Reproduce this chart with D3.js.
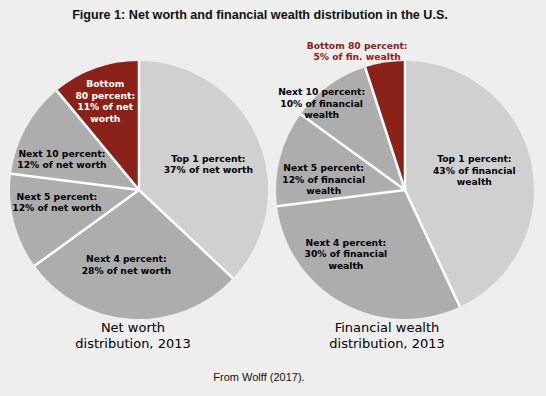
<!DOCTYPE html>
<html><head><meta charset="utf-8">
<script src="https://cdn.jsdelivr.net/npm/d3@7"></script>
<style>
html,body{margin:0;padding:0;background:#eeeeee;}
svg{display:block;}
</style></head>
<body>
<script>
// ---- data ----
const groups = ["Top 1 percent", "Next 4 percent", "Next 5 percent", "Next 10 percent", "Bottom 80 percent"];
const netWorth = [37, 28, 12, 12, 11];
const financialWealth = [43, 30, 12, 10, 5];
const netWorthLabels = [
  ["Top 1 percent:", "37% of net worth"],
  ["Next 4 percent:", "28% of net worth"],
  ["Next 5 percent:", "12% of net worth"],
  ["Next 10 percent:", "12% of net worth"],
  ["Bottom", "80 percent:", "11% of net", "worth"]
];
const financialLabels = [
  ["Top 1 percent:", "43% of financial", "wealth"],
  ["Next 4 percent:", "30% of financial", "wealth"],
  ["Next 5 percent:", "12% of financial", "wealth"],
  ["Next 10 percent:", "10% of financial", "wealth"],
  ["Bottom 80 percent:", "5% of fin. wealth"]
];
const pieTitles = [["Net worth", "distribution, 2013"], ["Financial wealth", "distribution, 2013"]];
const title = "Figure 1: Net worth and financial wealth distribution in the U.S.";
const source = "From Wolff (2017).";

// ---- layout ----
const W = 546, H = 396;
const colors = ["#d0d0d0", "#adadad", "#adadad", "#adadad", "#8a2219"];
const labelColors = ["#000", "#000", "#000", "#000", "#fff"];
const R = 129;
const pies = [
  {cx: 139, cy: 190, values: netWorth, labels: netWorthLabels, titleX: 133,
   // label placement: radius, angle offset (deg)
   lab: [[74, 3], [76, 6], [83, 6], [83, -7], [95, -1]], lastColor: "#fff"},
  {cx: 405, cy: 190, values: financialWealth, labels: financialLabels, titleX: 387,
   lab: [[72, -3], [87, 14], [82, -7], [120, -8], [147, -10]], lastColor: "#8a2219"}
];

const svg = d3.select("body").append("svg").attr("width", W).attr("height", H);

svg.append("text").attr("x", 260).attr("y", 19).attr("text-anchor", "middle")
  .style("font-family", "'Liberation Sans', Arial, sans-serif").style("font-weight", "bold")
  .style("font-size", "12.6px").attr("fill", "#111").text(title);

const pieGen = d3.pie().sort(null).value(d => d);
const arc = d3.arc().innerRadius(0).outerRadius(R);

pies.forEach((p, pi) => {
  const g = svg.append("g").attr("transform", `translate(${p.cx},${p.cy})`);
  const arcs = pieGen(p.values);
  g.selectAll("path.slice").data(arcs).join("path").attr("class", "slice")
    .attr("d", arc).attr("fill", (d, i) => colors[i]);
  // separators
  g.selectAll("line.sep").data(arcs).join("line").attr("class", "sep")
    .attr("x1", 0).attr("y1", 0)
    .attr("x2", d => Math.sin(d.startAngle) * R)
    .attr("y2", d => -Math.cos(d.startAngle) * R)
    .attr("stroke", "#fff").attr("stroke-width", 2.5);
  // labels
  arcs.forEach((d, i) => {
    const mid = (d.startAngle + d.endAngle) / 2 + p.lab[i][1] * Math.PI / 180;
    const r = p.lab[i][0];
    const x = Math.sin(mid) * r, y = -Math.cos(mid) * r;
    const lines = p.labels[i];
    const lh = 11.5;
    const t = g.append("text").attr("text-anchor", "middle")
      .style("font-family", "'DejaVu Sans', Verdana, sans-serif").style("font-weight", "bold")
      .style("font-size", "9.2px")
      .attr("fill", i === 4 ? p.lastColor : labelColors[i]);
    lines.forEach((ln, k) => {
      t.append("tspan").attr("x", x)
        .attr("y", y + (k - (lines.length - 1) / 2) * lh + 3.3).text(ln);
    });
  });
  // pie title
  const tt = svg.append("text").attr("text-anchor", "middle")
    .style("font-family", "'DejaVu Sans', Verdana, sans-serif").style("font-size", "13px")
    .attr("fill", "#000");
  pieTitles[pi].forEach((ln, k) => {
    tt.append("tspan").attr("x", p.titleX).attr("y", 332 + k * 16).text(ln);
  });
});

svg.append("text").attr("x", 259).attr("y", 381).attr("text-anchor", "middle")
  .style("font-family", "'Liberation Sans', Arial, sans-serif").style("font-size", "11px")
  .attr("fill", "#111").text(source);
</script>
</body></html>
